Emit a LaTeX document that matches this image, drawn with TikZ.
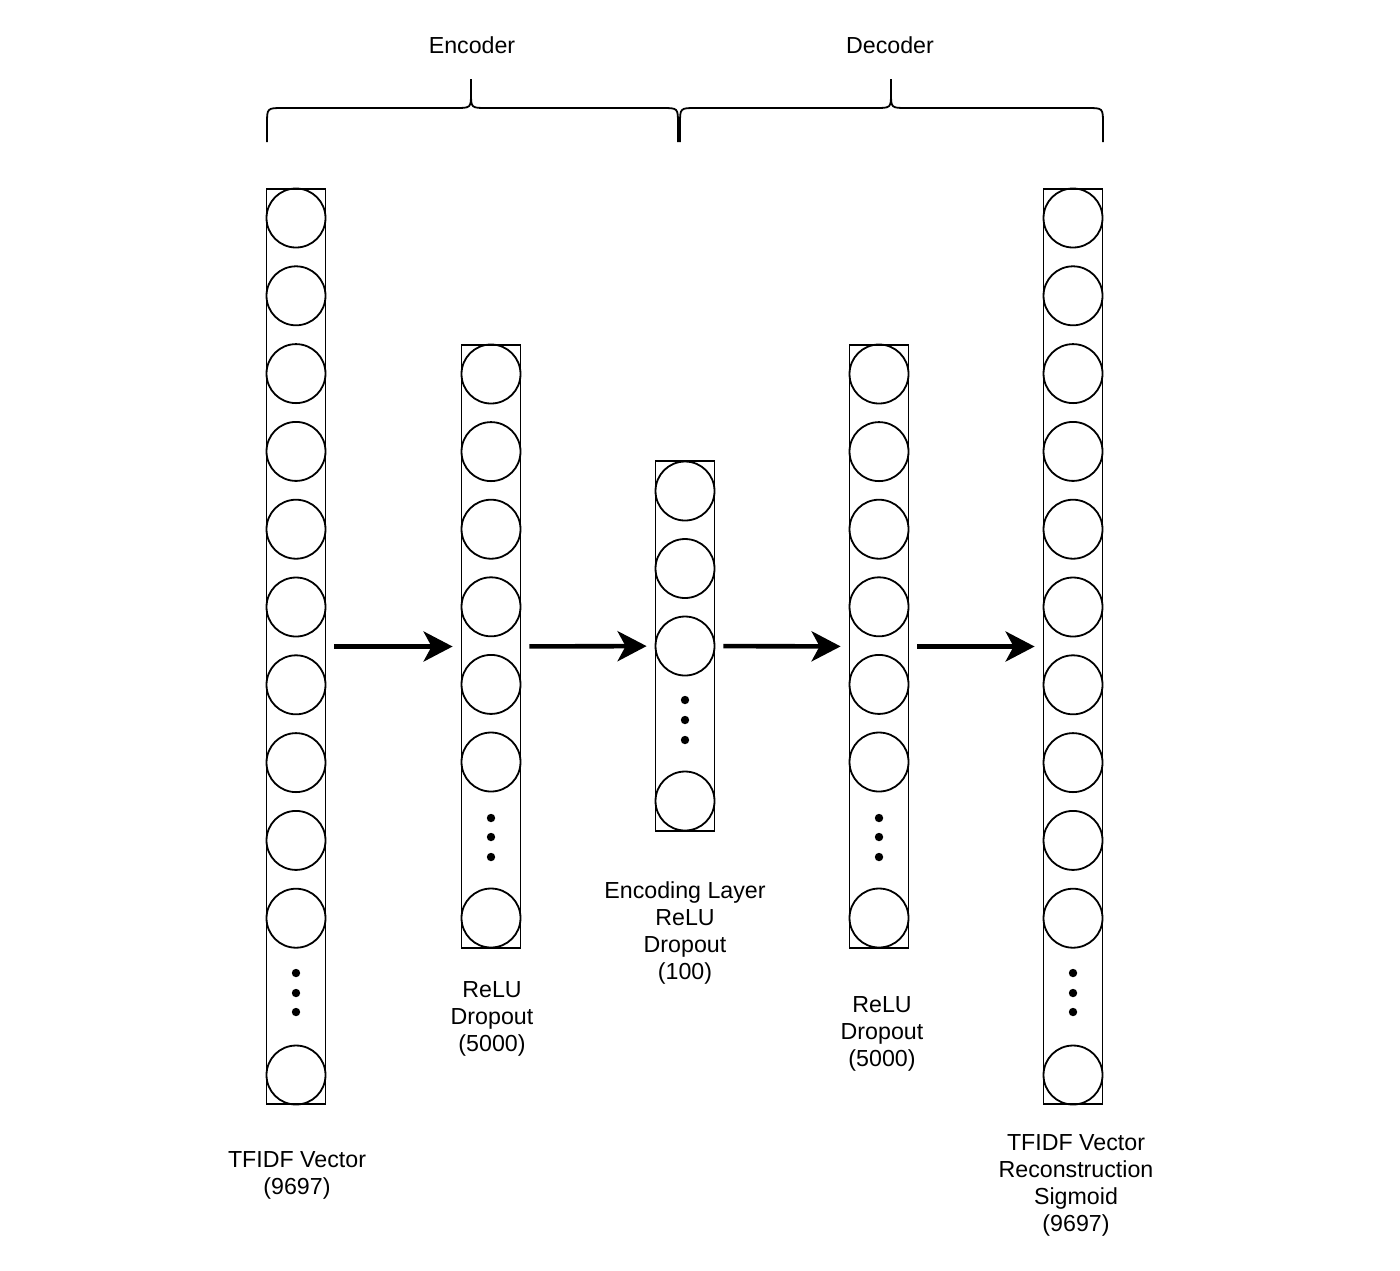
\documentclass[tikz,border=0pt]{standalone}
\usepackage{fontspec}
\setmainfont{Liberation Sans}
\usetikzlibrary{arrows.meta}

\tikzset{
    layer/.style={draw, line width=0.9pt, minimum width=29.5pt, inner sep=0pt},
    unit/.style={draw, circle, line width=0.9pt, minimum size=29.5pt, inner sep=0pt},
    flow/.style={-{Stealth[length=14.5pt, width=15pt, inset=4pt]}, line width=2.3pt,
        shorten <=4pt, shorten >=4pt},
    caption/.style={align=center, font=\fontsize{11.6}{13.5}\selectfont},
    brace/.style={line width=0.9pt},
}

\begin{document}
\begin{tikzpicture}[x=0.5pt, y=-0.5pt]
    \useasboundingbox (0,0) rectangle (1400,1270);

    % Braces
    \node[caption] (enc) at (472,45) {Encoder};
    \node[caption] (dec) at (890,45) {Decoder};
    \draw[brace] (267,142) -- (267,124) .. controls (267,108) .. (283,108) -- (455,108)
        .. controls (471,108) .. (471,93) -- (471,79);
    \draw[brace] (471,93) .. controls (471,108) .. (487,108) -- (662,108)
        .. controls (678,108) .. (678,124) -- (678,142);
    \draw[brace] (680,142) -- (680,124) .. controls (680,108) .. (696,108) -- (875,108)
        .. controls (891,108) .. (891,93) -- (891,79);
    \draw[brace] (891,93) .. controls (891,108) .. (907,108) -- (1087,108)
        .. controls (1103,108) .. (1103,124) -- (1103,142);

    % Input layer
    \node[layer, minimum height=457.5pt] (in) at (296,646.5) {};
    \foreach \i in {0,...,9} \node[unit] (in\i) at (296,218+77.8*\i) {};
    \foreach \d in {973,993,1012} \fill (296,\d) circle (2.1pt);
    \node[unit] (inN) at (296,1075) {};
    \node[caption] (inlabel) at (297,1175) {TFIDF Vector\\(9697)};

    % Hidden layer 1
    \node[layer, minimum height=301.5pt] (hA) at (491,646.5) {};
    \foreach \i in {0,...,5} \node[unit] (hA\i) at (491,374+77.6*\i) {};
    \foreach \d in {818,837,857} \fill (491,\d) circle (2.1pt);
    \node[unit] (hAN) at (491,918) {};
    \node[caption] (hAlabel) at (492,1019) {ReLU\\Dropout\\(5000)};

    % Encoding layer
    \node[layer, minimum height=185pt] (code) at (685,646) {};
    \foreach \i in {0,...,2} \node[unit] (code\i) at (685,491+77.5*\i) {};
    \foreach \d in {700,720,740} \fill (685,\d) circle (2.1pt);
    \node[unit] (codeN) at (685,801) {};
    \node[caption] (codelabel) at (685,933) {Encoding Layer\\ReLU\\Dropout\\(100)};

    % Hidden layer 2
    \node[layer, minimum height=301.5pt] (hB) at (879,646.5) {};
    \foreach \i in {0,...,5} \node[unit] (hB\i) at (879,374+77.6*\i) {};
    \foreach \d in {818,837,857} \fill (879,\d) circle (2.1pt);
    \node[unit] (hBN) at (879,918) {};
    \node[caption] (hBlabel) at (882,1034) {ReLU\\Dropout\\(5000)};

    % Output layer
    \node[layer, minimum height=457.5pt] (out) at (1073,646.5) {};
    \foreach \i in {0,...,9} \node[unit] (out\i) at (1073,218+77.8*\i) {};
    \foreach \d in {973,993,1012} \fill (1073,\d) circle (2.1pt);
    \node[unit] (outN) at (1073,1075) {};
    \node[caption] (outlabel) at (1076,1185) {TFIDF Vector\\Reconstruction\\Sigmoid\\(9697)};

    % Arrows
    \draw[flow] (in) -- (hA);
    \draw[flow] (hA) -- (code);
    \draw[flow] (code) -- (hB);
    \draw[flow] (hB) -- (out);
\end{tikzpicture}
\end{document}
